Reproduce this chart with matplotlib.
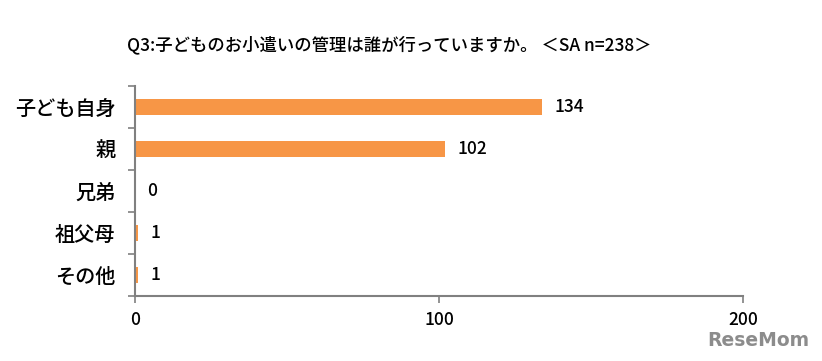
import matplotlib.pyplot as plt

plt.rcParams['font.family'] = ['Noto Sans CJK JP', 'DejaVu Sans']

# データ
categories = ['子ども自身', '親', '兄弟', '祖父母', 'その他']
counts = [134, 102, 0, 1, 1]
x_ticks = [0, 100, 200]
title = 'Q3:子どものお小遣いの管理は誰が行っていますか。 ＜SA n=238＞'

bar_color = '#F79646'
axis_color = '#808080'

fig = plt.figure(figsize=(8.22, 3.61), dpi=100)
ax = fig.add_axes([0.1642, 0.1801, 0.7397, 0.5817])

y = list(range(len(categories)))
ax.barh(y, counts, height=0.4, color=bar_color)

for yi, v in zip(y, counts):
    ax.text(v + 4, yi, str(v), va='center', ha='left', fontsize=12.5,
            fontweight='medium')

ax.set_xlim(0, 200)
ax.set_ylim(len(categories) - 0.5, -0.5)
ax.set_xticks(x_ticks)
ax.set_xticklabels([str(t) for t in x_ticks], fontsize=12.5, fontweight='medium')
ax.set_yticks(y)
ax.set_yticklabels(categories, fontsize=14.5, fontweight='medium')
ax.tick_params(axis='y', length=0, pad=14)
# カテゴリ境界の目盛り
ax.set_yticks([i - 0.5 for i in range(len(categories) + 1)], minor=True)
ax.tick_params(axis='y', which='minor', length=5, color=axis_color, width=1.2)
ax.tick_params(axis='x', length=5, color=axis_color, width=1.2, pad=6)

for s in ['top', 'right']:
    ax.spines[s].set_visible(False)
for s in ['left', 'bottom']:
    ax.spines[s].set_color(axis_color)
    ax.spines[s].set_linewidth(1.5)

fig.text(0.474, 0.875, title, ha='center', va='center', fontsize=12.5,
         fontweight='medium')
fig.text(0.985, 0.03, 'ReseMom', ha='right', va='bottom', fontsize=13.5,
         fontweight='bold', color='#8c8c8c', family='DejaVu Sans Condensed')

fig.savefig('out.png', dpi=100)
